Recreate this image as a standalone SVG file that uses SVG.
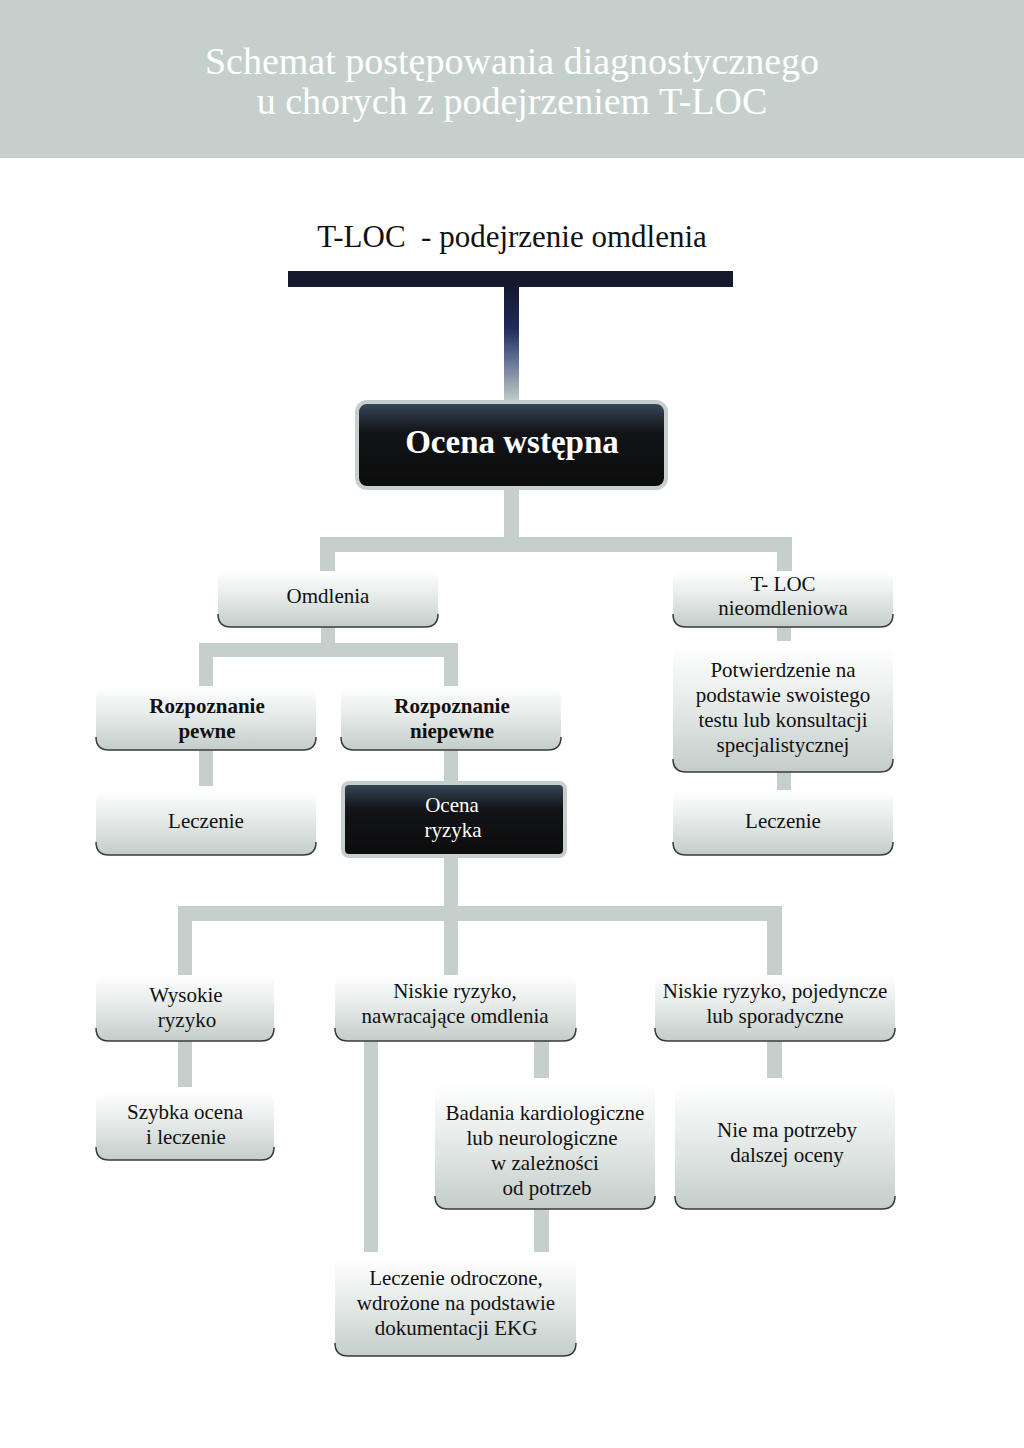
<svg xmlns="http://www.w3.org/2000/svg" width="1024" height="1448" viewBox="0 0 1024 1448">
<defs>
<linearGradient id="gLight" x1="0" y1="0" x2="0" y2="1">
<stop offset="0" stop-color="#ffffff"/>
<stop offset="0.45" stop-color="#e6ebe9"/>
<stop offset="1" stop-color="#c3cdca"/>
</linearGradient>
<linearGradient id="gDark" x1="0" y1="0" x2="0" y2="1">
<stop offset="0" stop-color="#3a4a5c"/>
<stop offset="0.35" stop-color="#121418"/>
<stop offset="1" stop-color="#0c0c0c"/>
</linearGradient>
<linearGradient id="gStem" x1="0" y1="0" x2="0" y2="1">
<stop offset="0" stop-color="#141a30"/>
<stop offset="0.35" stop-color="#1e2a5a"/>
<stop offset="0.6" stop-color="#5a6a90"/>
<stop offset="1" stop-color="#c5d0cc"/>
</linearGradient>
<style>
.c{fill:#c5d0cc}
.lb{fill:url(#gLight)}
.edge{fill:none;stroke:#3a3a3a;stroke-width:1.5}
.dk{fill:url(#gDark);stroke:#c5d0cc;stroke-width:4}
.t{font-family:"Liberation Serif","Times New Roman",serif;font-size:21px;fill:#111;text-anchor:middle}
.tb{font-weight:bold}
.tw{fill:#ffffff}
</style>
</defs>
<rect x="0" y="0" width="1024" height="1448" fill="#ffffff"/>
<rect x="0" y="0" width="1024" height="158" fill="#c5d0cc"/>
<text x="512" y="74" class="t tw" style="font-size:38px">Schemat postępowania diagnostycznego</text>
<text x="512" y="114" class="t tw" style="font-size:38px">u chorych z podejrzeniem T-LOC</text>
<text x="512" y="247" class="t" style="font-size:31px" xml:space="preserve">T-LOC  - podejrzenie omdlenia</text>

<g id="connectors">
<rect x="288" y="271" width="445" height="16" fill="#141a2c"/>
<rect x="504" y="287" width="15" height="116" fill="url(#gStem)"/>
<rect class="c" x="504" y="490" width="15" height="55"/>
<rect class="c" x="320" y="537" width="472" height="15"/>
<rect class="c" x="320" y="545" width="15" height="27"/>
<rect class="c" x="777" y="545" width="15" height="27"/>
<rect class="c" x="321" y="627" width="14" height="20"/>
<rect class="c" x="199" y="643" width="259" height="14"/>
<rect class="c" x="199" y="650" width="14" height="37"/>
<rect class="c" x="444" y="650" width="14" height="37"/>
<rect class="c" x="199" y="750" width="14" height="36"/>
<rect class="c" x="444" y="750" width="14" height="33"/>
<rect class="c" x="777" y="627" width="14" height="14"/>
<rect class="c" x="777" y="772" width="14" height="18"/>
<rect class="c" x="444" y="858" width="14" height="55"/>
<rect class="c" x="178" y="906" width="604" height="15"/>
<rect class="c" x="178" y="914" width="14" height="62"/>
<rect class="c" x="444" y="914" width="14" height="62"/>
<rect class="c" x="767" y="914" width="15" height="62"/>
<rect class="c" x="178" y="1041" width="14" height="46"/>
<rect class="c" x="364" y="1041" width="14" height="211"/>
<rect class="c" x="534" y="1041" width="15" height="37"/>
<rect class="c" x="534" y="1209" width="15" height="43"/>
<rect class="c" x="767" y="1041" width="15" height="37"/>
</g>

<g id="n-ocena-wstepna">
<rect class="dk" x="357" y="402" width="309" height="86" rx="10"/>
<text x="512" y="453" class="t tw tb" style="font-size:33px">Ocena wstępna</text>
</g>

<g id="n-omdlenia">
<rect class="lb" x="218" y="571" width="220" height="56" rx="9"/>
<path class="edge" d="M218 614 Q218 627 231 627 L425 627 Q438 627 438 614"/>
<text x="328" y="603" class="t">Omdlenia</text>
</g>

<g id="n-tloc-nieomdleniowa">
<rect class="lb" x="673" y="571" width="220" height="56" rx="9"/>
<path class="edge" d="M673 614 Q673 627 686 627 L880 627 Q893 627 893 614"/>
<text x="783" y="591" class="t">T- LOC</text>
<text x="783" y="615" class="t">nieomdleniowa</text>
</g>

<g id="n-rozp-pewne">
<rect class="lb" x="96" y="686" width="220" height="64" rx="9"/>
<path class="edge" d="M96 737 Q96 750 109 750 L303 750 Q316 750 316 737"/>
<text x="207" y="713" class="t tb">Rozpoznanie</text>
<text x="207" y="738" class="t tb">pewne</text>
</g>

<g id="n-rozp-niepewne">
<rect class="lb" x="341" y="686" width="220" height="64" rx="9"/>
<path class="edge" d="M341 737 Q341 750 354 750 L548 750 Q561 750 561 737"/>
<text x="452" y="713" class="t tb">Rozpoznanie</text>
<text x="452" y="738" class="t tb">niepewne</text>
</g>

<g id="n-leczenie-1">
<rect class="lb" x="96" y="790" width="220" height="65" rx="9"/>
<path class="edge" d="M96 842 Q96 855 109 855 L303 855 Q316 855 316 842"/>
<text x="206" y="828" class="t">Leczenie</text>
</g>

<g id="n-ocena-ryzyka">
<rect class="dk" x="343" y="783" width="222" height="73" rx="6"/>
<text x="452" y="812" class="t tw">Ocena</text>
<text x="453" y="837" class="t tw">ryzyka</text>
</g>

<g id="n-potwierdzenie">
<rect class="lb" x="673" y="646" width="220" height="126" rx="9"/>
<path class="edge" d="M673 759 Q673 772 686 772 L880 772 Q893 772 893 759"/>
<text x="783" y="677" class="t">Potwierdzenie na</text>
<text x="783" y="702" class="t">podstawie swoistego</text>
<text x="783" y="727" class="t">testu lub konsultacji</text>
<text x="783" y="752" class="t">specjalistycznej</text>
</g>

<g id="n-leczenie-2">
<rect class="lb" x="673" y="790" width="220" height="65" rx="9"/>
<path class="edge" d="M673 842 Q673 855 686 855 L880 855 Q893 855 893 842"/>
<text x="783" y="828" class="t">Leczenie</text>
</g>

<g id="n-wysokie">
<rect class="lb" x="96" y="975" width="178" height="66" rx="9"/>
<path class="edge" d="M96 1028 Q96 1041 109 1041 L261 1041 Q274 1041 274 1028"/>
<text x="186" y="1002" class="t">Wysokie</text>
<text x="187" y="1027" class="t">ryzyko</text>
</g>

<g id="n-niskie-nawr">
<rect class="lb" x="335" y="975" width="241" height="66" rx="9"/>
<path class="edge" d="M335 1028 Q335 1041 348 1041 L563 1041 Q576 1041 576 1028"/>
<text x="455" y="998" class="t">Niskie ryzyko,</text>
<text x="455" y="1023" class="t">nawracające omdlenia</text>
</g>

<g id="n-niskie-poj">
<rect class="lb" x="655" y="975" width="240" height="66" rx="9"/>
<path class="edge" d="M655 1028 Q655 1041 668 1041 L882 1041 Q895 1041 895 1028"/>
<text x="775" y="998" class="t">Niskie ryzyko, pojedyncze</text>
<text x="775" y="1023" class="t">lub sporadyczne</text>
</g>

<g id="n-szybka">
<rect class="lb" x="96" y="1092" width="178" height="68" rx="9"/>
<path class="edge" d="M96 1147 Q96 1160 109 1160 L261 1160 Q274 1160 274 1147"/>
<text x="185" y="1119" class="t">Szybka ocena</text>
<text x="186" y="1144" class="t">i leczenie</text>
</g>

<g id="n-badania">
<rect class="lb" x="435" y="1083" width="220" height="126" rx="9"/>
<path class="edge" d="M435 1196 Q435 1209 448 1209 L642 1209 Q655 1209 655 1196"/>
<text x="545" y="1120" class="t">Badania kardiologiczne</text>
<text x="542" y="1145" class="t">lub neurologiczne</text>
<text x="545" y="1170" class="t">w zależności</text>
<text x="547" y="1195" class="t">od potrzeb</text>
</g>

<g id="n-nie-ma">
<rect class="lb" x="675" y="1083" width="220" height="126" rx="9"/>
<path class="edge" d="M675 1196 Q675 1209 688 1209 L882 1209 Q895 1209 895 1196"/>
<text x="787" y="1137" class="t">Nie ma potrzeby</text>
<text x="787" y="1162" class="t">dalszej oceny</text>
</g>

<g id="n-leczenie-odroczone">
<rect class="lb" x="335" y="1258" width="241" height="98" rx="9"/>
<path class="edge" d="M335 1343 Q335 1356 348 1356 L563 1356 Q576 1356 576 1343"/>
<text x="456" y="1285" class="t">Leczenie odroczone,</text>
<text x="456" y="1310" class="t">wdrożone na podstawie</text>
<text x="456" y="1335" class="t">dokumentacji EKG</text>
</g>
</svg>
